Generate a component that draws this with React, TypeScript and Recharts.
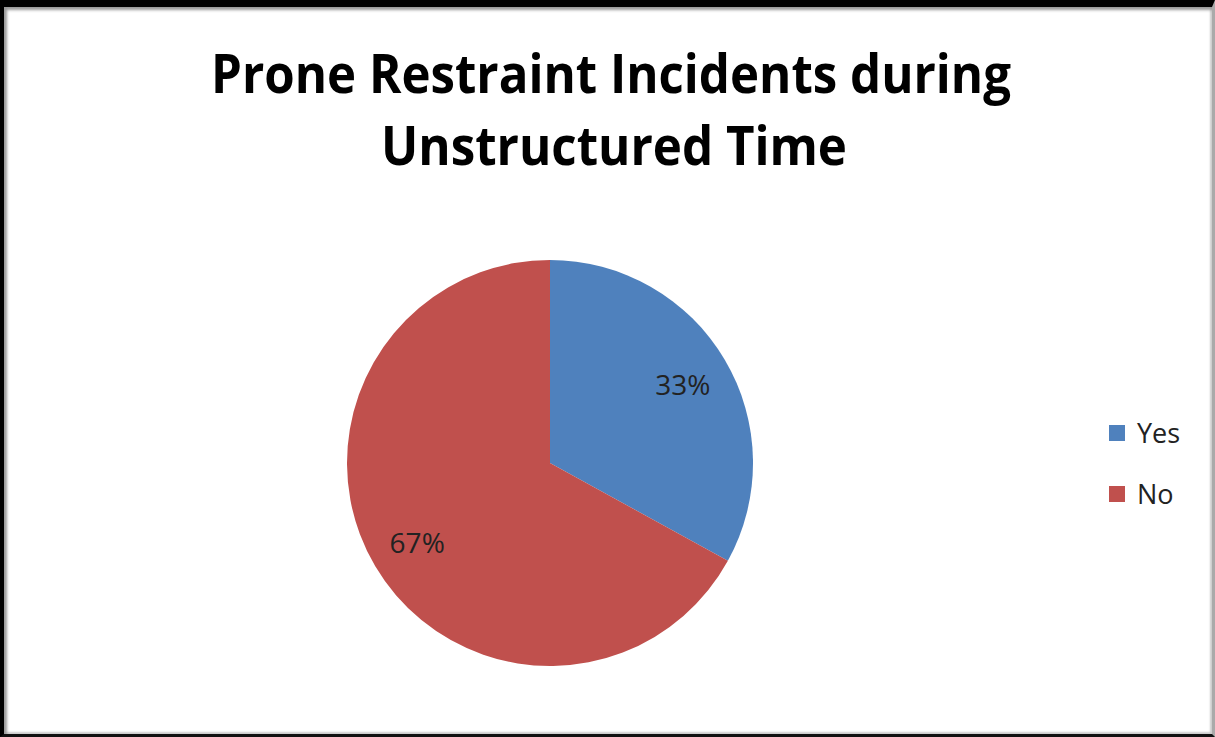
import React from "react";
import { PieChart, Pie, Cell, Legend } from "recharts";

const categories = ["Yes", "No"];
const shares = [33, 67];
const sliceColors = ["#4F81BD", "#C0504D"];
const titleLines = ["Prone Restraint Incidents during", "Unstructured Time"];

const data = categories.map((name, i) => ({ name, value: shares[i] }));

const RAD = Math.PI / 180;

const renderLabel = (props: any) => {
  const { cx, cy, midAngle, outerRadius, percent } = props;
  const r = outerRadius * 0.76;
  const x = cx + r * Math.cos(-midAngle * RAD);
  const y = cy + r * Math.sin(-midAngle * RAD);
  return (
    <text
      x={x}
      y={y}
      fill="#222"
      textAnchor="middle"
      dominantBaseline="central"
      style={{ fontFamily: "'Open Sans', sans-serif", fontSize: 28 }}
    >
      {`${Math.round(percent * 100)}%`}
    </text>
  );
};

const renderLegend = (props: any) => {
  // keep the legend in data order (recharts sorts it by name)
  const payload = [...(props.payload || [])].sort(
    (a: any, b: any) => categories.indexOf(a.value) - categories.indexOf(b.value)
  );
  return (
    <div style={{ fontFamily: "'Open Sans', sans-serif" }}>
      {payload.map((entry: any) => (
        <div
          key={entry.value}
          style={{ display: "flex", alignItems: "center", height: 61 }}
        >
          <span
            style={{
              width: 16,
              height: 16,
              background: entry.color,
              display: "inline-block",
              marginRight: 12
            }}
          />
          <span style={{ fontSize: 27, color: "#222" }}>{entry.value}</span>
        </div>
      ))}
    </div>
  );
};

export default function App() {
  return (
    <div
      style={{
        position: "fixed",
        left: 0,
        top: 0,
        width: 1215,
        height: 737,
        background: "#fff"
      }}
    >
      {/* frame */}
      <div
        style={{
          position: "absolute",
          inset: 0,
          boxSizing: "border-box",
          borderTop: "7px solid #000",
          borderLeft: "4px solid #000",
          borderBottom: "3px solid #111",
          borderRight: "3px solid #aaa",
          boxShadow: "inset 3px 3px 3px #999, inset -2px -2px 2px #ccc"
        }}
      />
      <div style={{ position: "absolute", left: 0, top: 0 }}>
        <PieChart
          width={1215}
          height={737}
          margin={{ top: 0, right: 0, bottom: 0, left: 0 }}
        >
          <Pie
            data={data}
            dataKey="value"
            nameKey="name"
            cx={550}
            cy={463}
            outerRadius={203}
            startAngle={90}
            endAngle={-270}
            stroke="none"
            label={renderLabel}
            labelLine={false}
            isAnimationActive={false}
          >
            {data.map((d, i) => (
              <Cell key={d.name} fill={sliceColors[i]} />
            ))}
          </Pie>
          <Legend
            layout="vertical"
            content={renderLegend}
            wrapperStyle={{ position: "absolute", left: 1109, top: 402, width: 100 }}
          />
        </PieChart>
      </div>
      <svg
        width={1215}
        height={200}
        style={{ position: "absolute", left: 0, top: 0 }}
      >
        {titleLines.map((line, i) => (
          <text
            key={line}
            x={i === 0 ? 611 : 614}
            y={93 + i * 72}
            textAnchor="middle"
            textLength={i === 0 ? 800 : 466}
            lengthAdjust="spacingAndGlyphs"
            style={{
              fontFamily: "'Open Sans', sans-serif",
              fontWeight: 700,
              fontSize: 54,
              fill: "#000"
            }}
          >
            {line}
          </text>
        ))}
      </svg>
    </div>
  );
}
